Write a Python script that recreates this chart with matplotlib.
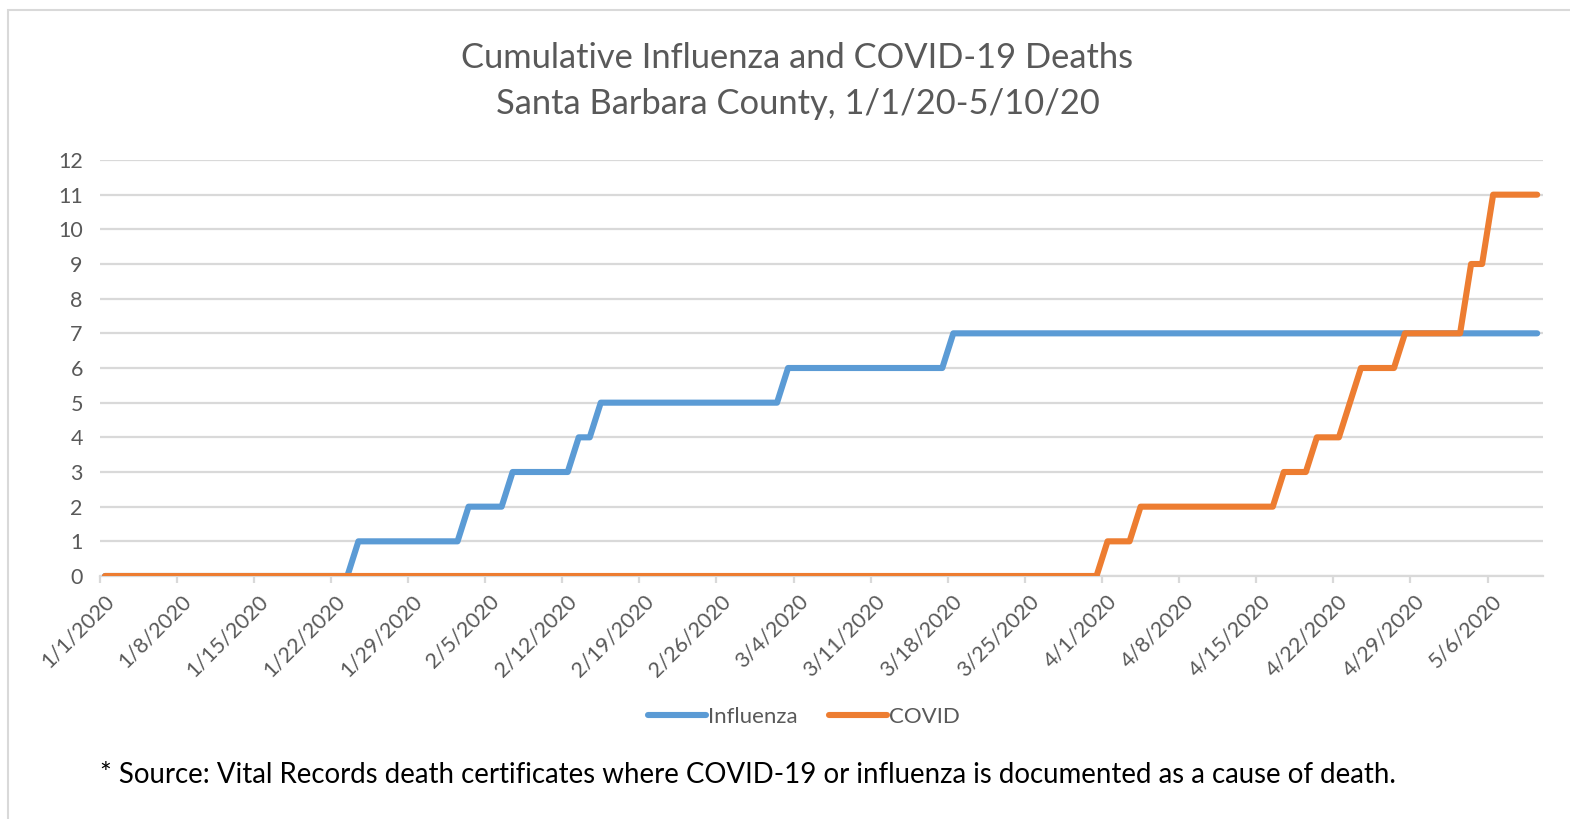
import matplotlib.pyplot as plt
import matplotlib.transforms as mtransforms
import pandas as pd

# daily cumulative deaths, 1/1/2020 .. 5/10/2020 (one row per week)
influenza = [
    0, 0, 0, 0, 0, 0, 0,
    0, 0, 0, 0, 0, 0, 0,
    0, 0, 0, 0, 0, 0, 0,
    0, 0, 1, 1, 1, 1, 1,
    1, 1, 1, 1, 1, 2, 2,
    2, 2, 3, 3, 3, 3, 3,
    3, 4, 4, 5, 5, 5, 5,
    5, 5, 5, 5, 5, 5, 5,
    5, 5, 5, 5, 5, 5, 6,
    6, 6, 6, 6, 6, 6, 6,
    6, 6, 6, 6, 6, 6, 6,
    7, 7, 7, 7, 7, 7, 7,
    7, 7, 7, 7, 7, 7, 7,
    7, 7, 7, 7, 7, 7, 7,
    7, 7, 7, 7, 7, 7, 7,
    7, 7, 7, 7, 7, 7, 7,
    7, 7, 7, 7, 7, 7, 7,
    7, 7, 7, 7, 7, 7, 7,
    7, 7, 7, 7, 7,
]
covid = [
    0, 0, 0, 0, 0, 0, 0,
    0, 0, 0, 0, 0, 0, 0,
    0, 0, 0, 0, 0, 0, 0,
    0, 0, 0, 0, 0, 0, 0,
    0, 0, 0, 0, 0, 0, 0,
    0, 0, 0, 0, 0, 0, 0,
    0, 0, 0, 0, 0, 0, 0,
    0, 0, 0, 0, 0, 0, 0,
    0, 0, 0, 0, 0, 0, 0,
    0, 0, 0, 0, 0, 0, 0,
    0, 0, 0, 0, 0, 0, 0,
    0, 0, 0, 0, 0, 0, 0,
    0, 0, 0, 0, 0, 0, 0,
    1, 1, 1, 2, 2, 2, 2,
    2, 2, 2, 2, 2, 2, 2,
    2, 2, 3, 3, 3, 4, 4,
    4, 5, 6, 6, 6, 6, 7,
    7, 7, 7, 7, 7, 9, 9,
    11, 11, 11, 11, 11,
]
dates = pd.date_range('2020-01-01', '2020-05-10', freq='D')
tick_labels = [f'{d.month}/{d.day}/{d.year}' for d in dates[::7]]

title = 'Cumulative Influenza and COVID-19 Deaths'
subtitle = 'Santa Barbara County, 1/1/20-5/10/20'
footnote = '* Source: Vital Records death certificates where COVID-19 or influenza is documented as a cause of death.'

plt.rcParams['font.family'] = ['Lato', 'DejaVu Sans']
grey_text = '#595959'
grid_col = '#d9d9d9'

fig = plt.figure(figsize=(15.7, 8.19), dpi=100)
ax = fig.add_axes([99.5 / 1570, 1 - 576 / 819, (1542.7 - 99.5) / 1570, (576 - 160) / 819])

x = list(range(len(dates)))
ax.plot(x, influenza, color='#5B9BD5', lw=4.4, label='Influenza', solid_capstyle='round', solid_joinstyle='round')
ax.plot(x, covid, color='#ED7D31', lw=4.4, label='COVID', solid_capstyle='round', solid_joinstyle='round')

ax.set_xlim(-0.5, len(dates) - 0.5)
ax.set_ylim(0, 12)
ax.set_yticks(range(13))
ax.yaxis.grid(True, color=grid_col, lw=1.6)
ax.set_axisbelow(True)
for s in ['top', 'right', 'left']:
    ax.spines[s].set_visible(False)
ax.spines['bottom'].set_color(grid_col)
ax.spines['bottom'].set_linewidth(1.6)
ax.spines['bottom'].set_zorder(0.5)

ax.set_xticks([i - 0.5 for i in range(0, len(dates), 7)])
ax.set_xticklabels(tick_labels, rotation=45, ha='right', va='top', rotation_mode='anchor')
ax.tick_params(axis='x', length=5, width=1.6, color=grid_col, labelsize=15.5, labelcolor=grey_text, pad=6)
ax.tick_params(axis='y', length=0, labelsize=15.5, labelcolor=grey_text, pad=12)
offset = mtransforms.ScaledTranslation(4 / 100, 0, fig.dpi_scale_trans)
for lab in ax.get_xticklabels():
    lab.set_transform(lab.get_transform() + offset)

fig.text(0.508, 1 - 58 / 819, title, ha='center', va='center', fontsize=24.8, color=grey_text)
fig.text(0.508, 1 - 104 / 819, subtitle, ha='center', va='center', fontsize=24.8, color=grey_text)

fig.legend(loc='center', bbox_to_anchor=(804 / 1570, 1 - 717 / 819), ncol=2, frameon=False,
           fontsize=16, handlelength=2.6, handletextpad=0.1, columnspacing=1.4, labelcolor=grey_text)

fig.text(100 / 1570, 1 - 775 / 819, footnote, ha='left', va='center', fontsize=19.9, color='black')

# light frame of the chart area (left and top edges visible)
fig.patches.append(plt.Rectangle((8 / 1570, -0.1), 1.2, 1 - 10 / 819 + 0.1, transform=fig.transFigure,
                                 fill=False, edgecolor='#d9d9d9', lw=1.5))

fig.savefig('out.png', dpi=100)
